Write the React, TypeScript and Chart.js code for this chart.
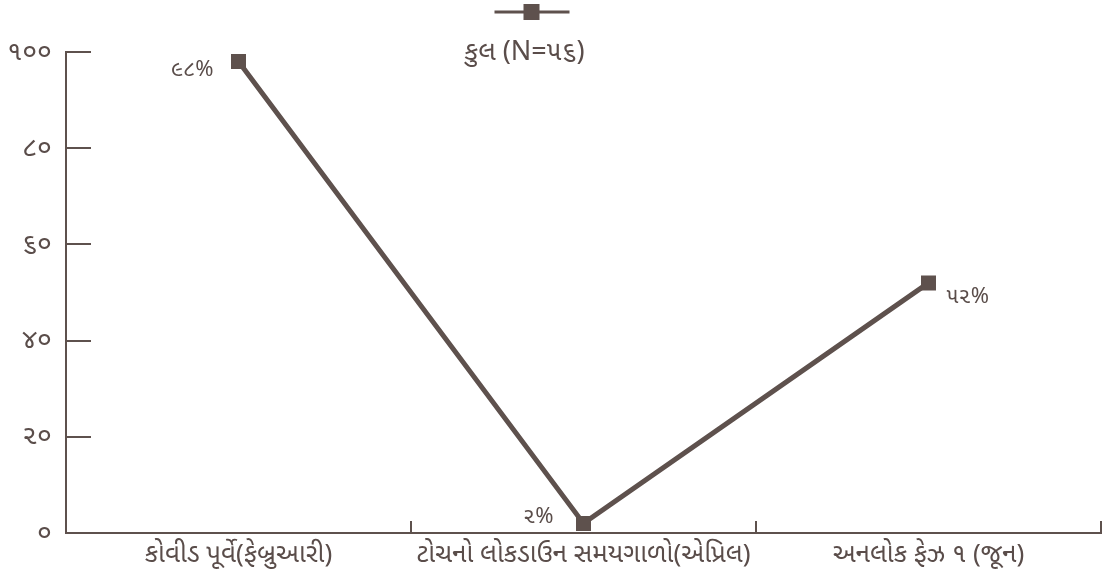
import React, { useEffect, useRef } from "react";
import { Chart, registerables } from "chart.js";

Chart.register(...registerables);

const categories = [
  "કોવીડ પૂર્વે(ફેબ્રુઆરી)",
  "ટોચનો લોકડાઉન સમયગાળો(એપ્રિલ)",
  "અનલોક ફેઝ ૧ (જૂન)",
];
const seriesName = "કુલ (N=૫૬)";
const values = [98, 2, 52];
const valueLabels = ["૯૮%", "૨%", "૫૨%"];
const yTicks = [0, 20, 40, 60, 80, 100];
const yTickLabels = ["૦", "૨૦", "૪૦", "૬૦", "૮૦", "૧૦૦"];

const INK = "#5e514d";
const TEXT = "#5a4d4a";
const FONT = "'Noto Sans', 'Noto Sans Gujarati', sans-serif";

const decorPlugin = {
  id: "decor",
  afterDraw(chart: any) {
    const { ctx, chartArea, scales } = chart;
    const y = scales.y;
    const x = scales.x;
    ctx.save();
    ctx.strokeStyle = INK;
    ctx.lineWidth = 2;
    // inward y ticks
    yTicks.forEach((v) => {
      const py = Math.round(y.getPixelForValue(v));
      ctx.beginPath();
      ctx.moveTo(chartArea.left, py);
      ctx.lineTo(chartArea.left + 25, py);
      ctx.stroke();
    });
    // inward x ticks at category boundaries
    const n = categories.length;
    const step = x.getPixelForValue(1) - x.getPixelForValue(0);
    for (let i = 1; i <= n; i++) {
      const px = x.getPixelForValue(i - 1) + step / 2;
      ctx.beginPath();
      ctx.moveTo(px, chartArea.bottom);
      ctx.lineTo(px, chartArea.bottom - 12);
      ctx.stroke();
    }
    // value labels
    const meta = chart.getDatasetMeta(0);
    ctx.fillStyle = TEXT;
    ctx.font = `22px ${FONT}`;
    ctx.textBaseline = "middle";
    const offsets = [
      { dx: -25, dy: 8, align: "right" },
      { dx: -30, dy: -7, align: "right" },
      { dx: 18, dy: 14, align: "left" },
    ];
    meta.data.forEach((pt: any, i: number) => {
      const o = offsets[i];
      ctx.textAlign = o.align;
      ctx.fillText(valueLabels[i], pt.x + o.dx, pt.y + o.dy);
    });
    // legend (symbol above text)
    const cx = (chartArea.left + chartArea.right) / 2 - 52;
    ctx.lineWidth = 3;
    ctx.beginPath();
    ctx.moveTo(cx - 37, 12);
    ctx.lineTo(cx + 38, 12);
    ctx.stroke();
    ctx.fillStyle = INK;
    ctx.fillRect(cx - 8, 4, 16, 16);
    ctx.fillStyle = TEXT;
    ctx.font = `27px ${FONT}`;
    ctx.textAlign = "center";
    ctx.fillText(seriesName, cx - 7, 52);
    ctx.restore();
  },
};

export default function App() {
  const ref = useRef<HTMLCanvasElement>(null);
  useEffect(() => {
    document.body.style.margin = "0";
    const chart = new Chart(ref.current!, {
      type: "line",
      data: {
        labels: categories,
        datasets: [
          {
            label: seriesName,
            data: values,
            borderColor: INK,
            backgroundColor: INK,
            borderWidth: 5,
            pointStyle: "rect",
            pointRadius: 10.6,
            pointHoverRadius: 10.6,
            pointBorderWidth: 0,
            pointBackgroundColor: INK,
            tension: 0,
          },
        ],
      },
      options: {
        responsive: false,
        animation: false,
        layout: { autoPadding: false, padding: { top: 52, right: 5, left: 0, bottom: 0 } },
        plugins: { legend: { display: false }, tooltip: { enabled: false } },
        scales: {
          x: {
            offset: true,
            grid: { display: false, drawTicks: false },
            border: { display: true, color: INK, width: 2 },
            ticks: { color: TEXT, font: { size: 26, family: FONT }, padding: 6, maxRotation: 0, autoSkip: false },
            afterFit(scale: any) {
              scale.height = 48;
              scale.paddingLeft = 0;
              scale.paddingRight = 0;
            },
          },
          y: {
            min: 0,
            max: 100,
            grid: { display: false, drawTicks: false },
            border: { display: true, color: INK, width: 2 },
            ticks: {
              stepSize: 20,
              color: TEXT,
              padding: 14,
              font: { size: 27, family: FONT },
              callback: (v: any) => {
                const i = yTicks.indexOf(Number(v));
                return i >= 0 ? yTickLabels[i] : "";
              },
            },
            afterFit(scale: any) {
              scale.width = 66;
            },
          },
        },
      },
      plugins: [decorPlugin],
    });
    return () => chart.destroy();
  }, []);
  return <canvas ref={ref} width={1106} height={581} style={{ display: "block" }} />;
}
